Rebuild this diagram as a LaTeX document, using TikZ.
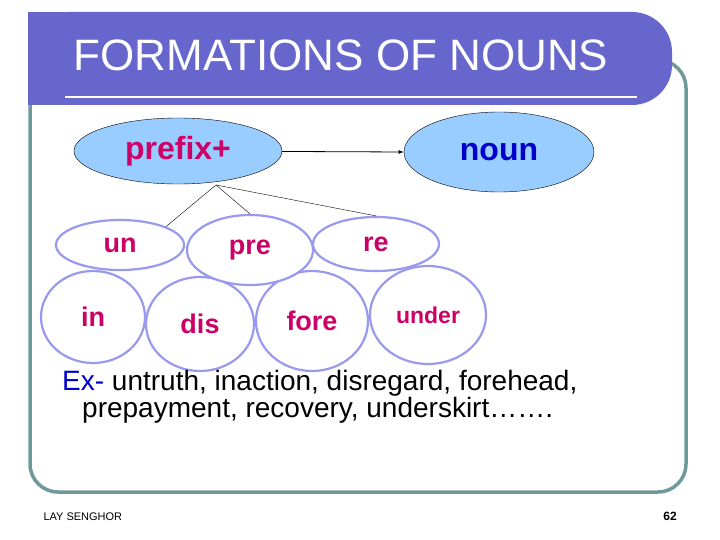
\documentclass[tikz,border=0pt]{standalone}
\usepackage{fontspec}
\setmainfont{Liberation Sans}
\usetikzlibrary{arrows, shapes.geometric}
\definecolor{barpurple}{HTML}{6666CC}
\definecolor{framegrey}{HTML}{6F9A9A}
\definecolor{ovalblue}{HTML}{99CCFF}
\definecolor{ringlilac}{HTML}{9999EE}
\definecolor{pinktext}{HTML}{CC0066}
\definecolor{bluetext}{HTML}{0000CC}
\begin{document}
\begin{tikzpicture}[x=1pt, y=-1pt,
				   topoval/.style={ellipse, draw=black, fill=ovalblue, inner sep=0pt, font=\fontsize{32}{36}\selectfont\bfseries},
				   ring/.style={ellipse, draw=ringlilac, line width=2.2pt, fill=white, inner sep=0pt, text=pinktext, font=\fontsize{27}{30}\selectfont\bfseries}]
\useasboundingbox (0,0) rectangle (720,540);
\fill[white] (0,0) rectangle (720,540);
% frame and title bar
\draw[framegrey, line width=3.5pt, rounded corners=28pt] (30,60) rectangle (686,492);
\fill[barpurple, rounded corners=40pt] (28,12) -- (672,12) -- (672,105) -- (28,105) -- cycle;
\fill[white] (30,13) rectangle (60,104);
\fill[barpurple] (28,12) rectangle (80,105);
\draw[white, line width=2pt] (65,97) -- (637,97);
\node[text=white, font=\fontsize{44}{48}\selectfont] (title) at (341,55) {FORMATIONS OF NOUNS};
% top ovals
\node[topoval, minimum width=208pt, minimum height=66pt, text=pinktext] (prefix) at (178,151) {prefix+};
\node[topoval, minimum width=190pt, minimum height=80pt, text=bluetext] (noun) at (499,152) {noun};
\draw[-latex, thick] (prefix) -- (noun.west);
% prefix rings
\node[ring, minimum width=128pt, minimum height=50pt] (un) at (120,245) {un};
\node[ring, minimum width=104pt, minimum height=92pt] (in) at (93,317) {in};
\node[ring, minimum width=108pt, minimum height=94pt] (dis) at (200,324) {dis};
\node[ring, minimum width=112pt, minimum height=100pt] (fore) at (312,321) {fore};
\node[ring, minimum width=116pt, minimum height=98pt, font=\fontsize{23}{26}\selectfont\bfseries] (under) at (428,315) {under};
\node[ring, minimum width=126pt, minimum height=70pt] (pre) at (250,250) {pre};
\node[ring, minimum width=126pt, minimum height=54pt] (re) at (376,244) {re};
\coordinate (fork) at (216,185);
\draw[thin] (fork) -- (un.north east);
\draw[thin] (fork) -- (pre.north);
\draw[thin] (fork) -- (re.north);
% example text
\node[anchor=west, inner sep=0pt, font=\fontsize{28}{32}\selectfont] (ex) at (62,383) {\textcolor{bluetext}{Ex-} untruth, inaction, disregard, forehead,};
\node[anchor=west, inner sep=0pt, font=\fontsize{28}{32}\selectfont] (ex2) at (82,410) {prepayment, recovery, underskirt\dots\dots.};
% footer
\node[anchor=west, font=\fontsize{11}{13}\selectfont] (author) at (40,517) {LAY SENGHOR};
\node[font=\fontsize{12}{14}\selectfont\bfseries] (page) at (670,516) {62};
\end{tikzpicture}
\end{document}
